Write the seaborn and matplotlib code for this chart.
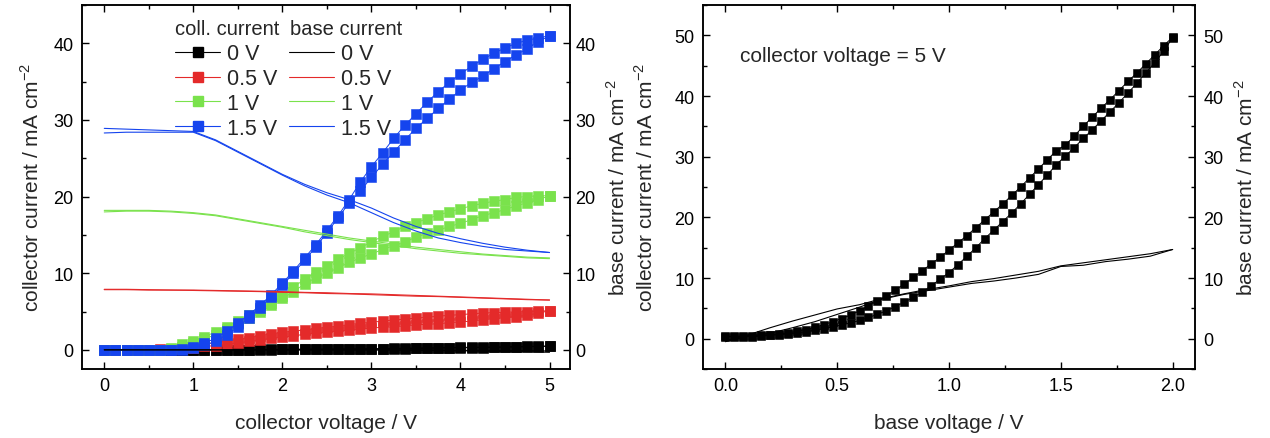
import numpy as np
import matplotlib
matplotlib.use("Agg")
import matplotlib.pyplot as plt
import seaborn as sns
from matplotlib.lines import Line2D
from matplotlib.ticker import MultipleLocator, FormatStrFormatter

# ---------------- output characteristics (left) ----------------
# collector-voltage sweep, forward and reverse branches
vc = np.arange(0, 5.0001, 0.125)
vc_line = np.arange(0, 5.0001, 0.25)
base_labels = ["0 V", "0.5 V", "1 V", "1.5 V"]
colors = ["#000000", "#e42a2a", "#7ae24c", "#1544ee"]

ic_0_fwd = [0, 0, 0, 0, 0, 0, 0, 0, 0, 0, 0.01, 0.02, 0.03, 0.04, 0.05, 0.06, 0.07,
            0.08, 0.09, 0.1, 0.1, 0.11, 0.12, 0.13, 0.15, 0.17, 0.19, 0.22, 0.24,
            0.26, 0.28, 0.3, 0.32, 0.34, 0.36, 0.38, 0.4, 0.42, 0.45, 0.48, 0.5]
ic_0_rev = [0, 0, 0, 0, 0, 0, 0, 0, 0, 0, 0, 0.01, 0.02, 0.03, 0.03, 0.04, 0.05,
            0.05, 0.06, 0.07, 0.07, 0.08, 0.09, 0.1, 0.11, 0.12, 0.14, 0.16, 0.18,
            0.2, 0.22, 0.24, 0.26, 0.28, 0.3, 0.32, 0.34, 0.37, 0.4, 0.43, 0.47]
ic_05_fwd = [0, 0, 0, 0, 0, 0.05, 0.15, 0.3, 0.5, 0.75, 0.95, 1.15, 1.35, 1.6, 1.85,
             2.1, 2.3, 2.45, 2.6, 2.8, 2.95, 3.1, 3.3, 3.45, 3.6, 3.75, 3.9, 4.0,
             4.15, 4.25, 4.4, 4.5, 4.6, 4.7, 4.8, 4.85, 4.9, 4.95, 5.0, 5.05, 5.1]
ic_05_rev = [0, 0, 0, 0, 0, 0, 0.05, 0.15, 0.3, 0.45, 0.55, 0.75, 0.9, 1.1, 1.3,
             1.5, 1.65, 1.8, 2.05, 2.15, 2.3, 2.45, 2.55, 2.7, 2.85, 2.95, 3.0, 3.15,
             3.25, 3.35, 3.4, 3.55, 3.65, 3.75, 3.95, 4.05, 4.2, 4.35, 4.5, 4.8, 5.1]
ic_1_fwd = [0, 0, 0, 0, 0, 0, 0.2, 0.7, 1.2, 1.7, 2.35, 3.0, 3.8, 4.5, 5.2, 6.1,
            7.0, 8.2, 9.2, 10.1, 11.0, 11.8, 12.6, 13.3, 14.1, 14.8, 15.4, 16.1,
            16.6, 17.1, 17.6, 18.0, 18.4, 18.8, 19.1, 19.4, 19.6, 19.9, 20.0, 20.1, 20.1]
ic_1_rev = [0, 0, 0, 0, 0, 0, 0.05, 0.4, 0.9, 1.4, 2.0, 2.7, 3.4, 4.1, 4.9, 5.8,
            6.7, 7.6, 8.6, 9.4, 10.0, 10.7, 11.4, 12.0, 12.5, 13.1, 13.6, 14.1,
            14.7, 15.2, 15.6, 16.1, 16.5, 17.0, 17.5, 17.9, 18.3, 18.8, 19.2, 19.6, 20.1]
ic_15_fwd = [0, 0, 0, 0, 0, 0, 0, 0.05, 0.4, 0.9, 1.5, 2.4, 3.5, 4.6, 5.8, 7.2,
             8.7, 10.3, 12.0, 13.7, 15.6, 17.5, 19.6, 21.9, 23.9, 25.7, 27.6, 29.3,
             30.8, 32.3, 33.7, 34.9, 36.0, 37.0, 37.9, 38.7, 39.4, 40.0, 40.4, 40.7, 41.0]
ic_15_rev = [0, 0, 0, 0, 0, 0, 0, 0, 0.2, 0.6, 1.1, 1.9, 3.0, 4.2, 5.5, 6.9,
             8.4, 10.0, 11.7, 13.4, 15.3, 17.2, 19.2, 20.7, 22.5, 24.2, 25.8, 27.4,
             28.9, 30.2, 31.5, 32.7, 33.9, 34.9, 35.7, 36.7, 37.6, 38.5, 39.3, 40.2, 41.0]

ib_0_fwd = [0, 0, 0, 0, 0, 0, 0, 0, 0, 0, 0, 0, 0, -0.02, -0.05, -0.08, -0.12,
            -0.16, -0.2, -0.26, -0.32]
ib_0_rev = [0, 0, 0, 0, 0, 0, 0, 0, 0, 0, 0, 0, 0, 0, -0.02, -0.04, -0.06, -0.08,
            -0.1, -0.12, -0.15]
ib_05_fwd = [7.9, 7.9, 7.85, 7.8, 7.8, 7.75, 7.7, 7.65, 7.6, 7.5, 7.45, 7.35, 7.3,
             7.2, 7.1, 7.0, 6.9, 6.8, 6.7, 6.6, 6.5]
ib_05_rev = [7.85, 7.85, 7.8, 7.8, 7.75, 7.7, 7.65, 7.6, 7.5, 7.45, 7.35, 7.3, 7.2,
             7.1, 7.0, 6.95, 6.85, 6.75, 6.65, 6.55, 6.5]
ib_1_fwd = [18.2, 18.2, 18.2, 18.1, 17.9, 17.6, 17.1, 16.6, 16.1, 15.6, 15.1, 14.6,
            14.2, 13.8, 13.4, 13.1, 12.8, 12.5, 12.3, 12.1, 12.0]
ib_1_rev = [18.0, 18.1, 18.1, 18.0, 17.8, 17.5, 17.0, 16.5, 16.0, 15.4, 14.9, 14.4,
            14.0, 13.6, 13.2, 12.9, 12.6, 12.4, 12.2, 12.0, 11.9]
ib_15_fwd = [28.9, 28.8, 28.7, 28.6, 28.5, 27.4, 25.9, 24.4, 22.9, 21.6, 20.5, 19.6,
             18.5, 17.2, 16.1, 15.2, 14.5, 13.9, 13.4, 13.0, 12.7]
ib_15_rev = [28.3, 28.4, 28.4, 28.4, 28.4, 27.3, 25.8, 24.3, 22.8, 21.4, 20.2, 19.2,
             17.9, 16.6, 15.5, 14.6, 14.0, 13.5, 13.1, 12.9, 12.7]

# ---------------- transfer characteristic (right) ----------------
vb = np.arange(0, 2.0001, 0.04)
vb_line = np.arange(0, 2.0001, 0.1)
ic_vb_up = [0.4, 0.4, 0.45, 0.5, 0.55, 0.65, 0.8, 0.95, 1.2, 1.5, 1.9, 2.3, 2.8,
            3.3, 3.9, 4.6, 5.4, 6.2, 7.1, 8.0, 9.0, 10.1, 11.2, 12.3, 13.4, 14.6,
            15.8, 17.0, 18.3, 19.6, 20.9, 22.2, 23.6, 25.0, 26.5, 28.0, 29.5, 31.0,
            31.9, 33.4, 35.0, 36.5, 38.0, 39.4, 40.9, 42.4, 43.8, 45.3, 46.8, 48.3, 49.7]
ic_vb_down = [0.3, 0.3, 0.3, 0.35, 0.4, 0.55, 0.65, 0.8, 0.95, 1.15, 1.4, 1.65,
              1.95, 2.25, 2.6, 3.0, 3.5, 4.0, 4.6, 5.3, 6.0, 6.8, 7.7, 8.7, 9.8, 10.9,
              12.2, 13.6, 15.0, 16.5, 17.9, 19.3, 20.7, 22.2, 23.8, 25.4, 27.0, 28.7,
              30.1, 31.5, 33.0, 34.4, 35.9, 37.4, 38.9, 40.5, 42.1, 43.8, 45.5, 47.4, 49.6]
ib_vb_up = [-0.3, 0.6, 1.8, 2.9, 3.9, 4.9, 5.6, 6.6, 7.4, 8.1, 8.7, 9.4, 9.9, 10.5,
            11.1, 12.0, 12.5, 13.0, 13.5, 14.0, 14.7]
ib_vb_down = [-0.5, 0.4, 0.9, 1.8, 2.8, 4.0, 5.2, 6.5, 7.3, 7.9, 8.5, 9.1, 9.5, 10.0,
              10.6, 11.9, 12.1, 12.7, 13.1, 13.6, 14.7]

sns.set_theme(style="ticks")
plt.rcParams["font.family"] = ["Liberation Sans", "DejaVu Sans"]
plt.rcParams["mathtext.fontset"] = "custom"
plt.rcParams["mathtext.rm"] = "Liberation Sans"
plt.rcParams["axes.linewidth"] = 1.1
plt.rcParams["axes.edgecolor"] = "black"

TICK_FS = 13
LABEL_FS = 15
LEG_FS = 15.5
HEAD_FS = 14.5
UNIT = r" / mA cm$^{\mathregular{-2}}$"

fig = plt.figure(figsize=(12.7, 4.39), dpi=100)
W, H = 1270, 439
ax1 = fig.add_axes([82 / W, 1 - 370 / H, 488 / W, 364 / H])
ax2 = fig.add_axes([703 / W, 1 - 370 / H, 492 / W, 364 / H])


def style_axis(ax, xmaj, xmin, ymaj, ymin):
    ax.xaxis.set_major_locator(MultipleLocator(xmaj))
    ax.xaxis.set_minor_locator(MultipleLocator(xmin))
    ax.yaxis.set_major_locator(MultipleLocator(ymaj))
    ax.yaxis.set_minor_locator(MultipleLocator(ymin))
    ax.tick_params(which="both", direction="in", top=True, right=False,
                   colors="black", labelsize=TICK_FS, width=1.0)
    ax.tick_params(which="major", length=5, pad=6)
    ax.tick_params(which="minor", length=3)
    for s in ax.spines.values():
        s.set_visible(True)
        s.set_color("black")


def style_twin(ax_main, ax_t, pad):
    ax_t.set_ylim(ax_main.get_ylim())
    ax_t.yaxis.set_major_locator(MultipleLocator(10))
    ax_t.yaxis.set_minor_locator(MultipleLocator(5))
    ax_t.tick_params(which="both", direction="in", colors="black",
                     labelsize=TICK_FS, width=1.0)
    ax_t.tick_params(which="major", length=5, pad=pad)
    ax_t.tick_params(which="minor", length=3)


def draw_squares(ax, x, y, color, ms):
    sns.lineplot(x=x, y=y, ax=ax, color=color, marker="s", markersize=ms,
                 markeredgecolor=color, markeredgewidth=0.4, linewidth=0.7,
                 sort=False, estimator=None, legend=False)


def draw_line(ax, x, y, color):
    sns.lineplot(x=x, y=y, ax=ax, color=color, linewidth=0.8,
                 sort=False, estimator=None, legend=False)


# ---- left panel ----
ic_sets = [(ic_0_fwd, ic_0_rev), (ic_05_fwd, ic_05_rev),
           (ic_1_fwd, ic_1_rev), (ic_15_fwd, ic_15_rev)]
ib_sets = [(ib_0_fwd, ib_0_rev), (ib_05_fwd, ib_05_rev),
           (ib_1_fwd, ib_1_rev), (ib_15_fwd, ib_15_rev)]
for (fwd, rev), col in zip(ic_sets, colors):
    draw_squares(ax1, vc, fwd, col, 6.6)
    draw_squares(ax1, vc, rev, col, 6.6)
for (fwd, rev), col in zip(ib_sets, colors):
    draw_line(ax1, vc_line, fwd, col)
    draw_line(ax1, vc_line, rev, col)

ax1.set_xlim(-0.25, 5.23)
ax1.set_ylim(-2.5, 45)
style_axis(ax1, 1, 0.5, 10, 5)
ax1.set_xlabel("collector voltage / V", fontsize=LABEL_FS, labelpad=13.5)
ax1.set_ylabel("collector current" + UNIT, fontsize=LABEL_FS, labelpad=8)

ax1r = ax1.twinx()
style_twin(ax1, ax1r, 4)
ax1r.set_ylabel("base current" + UNIT, fontsize=LABEL_FS, labelpad=7.5)

# two-column legend: collector current (squares) and base current (lines)
h_sq = [Line2D([], [], color=c, lw=0.8, marker="s", markersize=6.8,
               markeredgecolor=c) for c in colors]
h_ln = [Line2D([], [], color=c, lw=0.8) for c in colors]
ax1.legend(h_sq + h_ln, base_labels + base_labels, ncol=2, frameon=False,
           loc="upper left", bbox_to_anchor=(0.1906, 0.895), fontsize=LEG_FS,
           handlelength=2.1, handletextpad=0.3, columnspacing=0.55,
           labelspacing=0.18, borderpad=0, borderaxespad=0)
ax1.text(0.1906, 0.936, "coll. current", transform=ax1.transAxes,
         fontsize=HEAD_FS, va="center", ha="left")
ax1.text(0.426, 0.936, "base current", transform=ax1.transAxes,
         fontsize=HEAD_FS, va="center", ha="left")

# ---- right panel ----
draw_line(ax2, vb_line, ib_vb_up, "black")
draw_line(ax2, vb_line, ib_vb_down, "black")
draw_squares(ax2, vb, ic_vb_up, "black", 6.4)
draw_squares(ax2, vb, ic_vb_down, "black", 6.4)

ax2.set_xlim(-0.1, 2.1)
ax2.set_ylim(-5, 55)
style_axis(ax2, 0.5, 0.25, 10, 5)
ax2.xaxis.set_major_formatter(FormatStrFormatter("%.1f"))
ax2.set_xlabel("base voltage / V", fontsize=LABEL_FS, labelpad=13.5)
ax2.set_ylabel("collector current" + UNIT, fontsize=LABEL_FS, labelpad=13)
ax2.text(0.067, 46.7, "collector voltage = 5 V", fontsize=15, va="center",
         ha="left")

ax2r = ax2.twinx()
style_twin(ax2, ax2r, 6)
ax2r.set_ylabel("base current" + UNIT, fontsize=LABEL_FS, labelpad=8)

fig.savefig("out.png", dpi=100, facecolor="white")
